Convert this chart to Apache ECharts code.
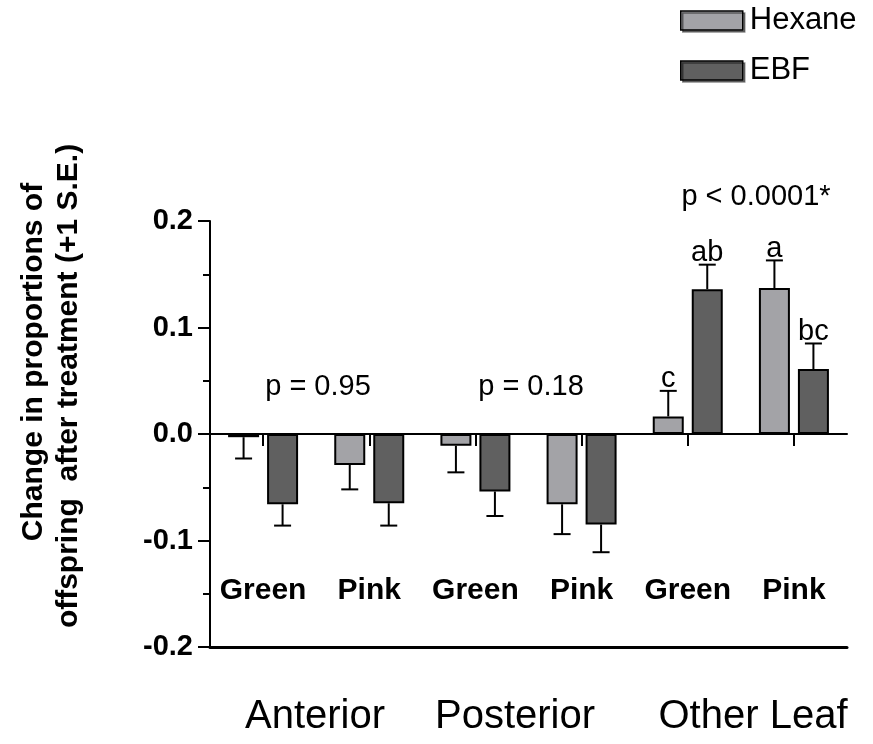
<!DOCTYPE html>
<html>
<head>
<meta charset="utf-8">
<script src="https://cdn.jsdelivr.net/npm/echarts@6/dist/echarts.min.js"></script>
<style>html,body{margin:0;padding:0;background:#fff;}#chart{width:873px;height:744px;}</style>
</head>
<body>
<div id="chart"></div>
<script>
// ---- data ----
const categories = ['Green', 'Pink', 'Green', 'Pink', 'Green', 'Pink'];
const groups = ['Anterior', 'Posterior', 'Other Leaf'];
const hexaneValues = [-0.003, -0.029, -0.011, -0.066, 0.0165, 0.137];
const hexaneSE = [0.020, 0.023, 0.025, 0.028, 0.024, 0.026];
const ebfValues = [-0.066, -0.065, -0.054, -0.085, 0.136, 0.061];
const ebfSE = [0.020, 0.021, 0.023, 0.026, 0.023, 0.024];
const hexaneLetters = ['', '', '', '', 'c', 'a'];
const ebfLetters = ['', '', '', '', 'ab', 'bc'];
const pValues = ['p = 0.95', 'p = 0.18', 'p < 0.0001*'];
const yTicks = [-0.2, -0.1, 0.0, 0.1, 0.2];
const yTitle = ['Change in proportions of', 'offspring  after treatment (+1 S.E.)'];

// ---- styles ----
const FONT = '"Liberation Sans", Arial, Helvetica, sans-serif';
const HEX_COLOR = '#a3a3a7';
const EBF_COLOR = '#606060';
const BAR_W = 31;
const BAR_GAP_PX = 8;
const OFFSET = (BAR_W + BAR_GAP_PX) / 2;
const CAP = 17;

const chart = echarts.init(document.getElementById('chart'));

function errRender(offset, letters) {
  return function (params, api) {
    const i = api.value(0), v = api.value(1), se = api.value(2);
    const dir = v >= 0 ? 1 : -1;
    const p0 = api.coord([i, v]);
    const p1 = api.coord([i, v + dir * se]);
    const x = p0[0] + offset;
    const children = [
      { type: 'line', shape: { x1: x, y1: p0[1], x2: x, y2: p1[1] }, style: { stroke: '#000', lineWidth: 2 } },
      { type: 'line', shape: { x1: x - CAP / 2, y1: p1[1], x2: x + CAP / 2, y2: p1[1] }, style: { stroke: '#000', lineWidth: 2 } }
    ];
    const t = letters[i];
    if (t) {
      children.push({ type: 'text', x: x, y: p1[1] + 3, style: { text: t, fill: '#000', fontSize: 29, fontFamily: FONT, align: 'center', verticalAlign: 'bottom' } });
    }
    return { type: 'group', children: children };
  };
}

const option = {
  animation: false,
  backgroundColor: '#fff',
  grid: { left: 210, right: 26, top: 221, bottom: 97, containLabel: false, outerBoundsMode: 'none' },
  legend: {
    orient: 'vertical', left: 680, top: 5, padding: 0,
    itemWidth: 62, itemHeight: 19, itemGap: 19,
    icon: 'rect',
    data: ['Hexane', 'EBF'],
    textStyle: { fontSize: 31, fontFamily: FONT, color: '#000', padding: [3, 0, 0, 2] },
    itemStyle: { borderColor: '#000', borderWidth: 1.5, shadowColor: 'rgba(0,0,0,0.45)', shadowOffsetX: 2, shadowOffsetY: 2, shadowBlur: 0 }
  },
  xAxis: [
    {
      type: 'category', data: categories,
      axisLine: { onZero: true, lineStyle: { color: '#000', width: 2 } },
      axisTick: { show: true, alignWithLabel: true, length: 12, lineStyle: { color: '#000', width: 2 } },
      axisLabel: { show: false },
      splitLine: { show: false }
    },
    {
      type: 'category', data: categories, position: 'bottom',
      axisLine: { onZero: false, lineStyle: { color: '#000', width: 3 } },
      axisTick: { show: false },
      axisLabel: { show: true, inside: true, interval: 0, hideOverlap: false, margin: 56, verticalAlign: 'middle',
        fontSize: 30, fontWeight: 'bold', fontFamily: FONT, color: '#000' },
      splitLine: { show: false }
    }
  ],
  yAxis: {
    type: 'value', min: yTicks[0], max: yTicks[yTicks.length - 1], interval: 0.1,
    axisLine: { show: true, onZero: false, lineStyle: { color: '#000', width: 2 } },
    axisTick: { show: true, length: 12, lineStyle: { color: '#000', width: 2 } },
    minorTick: { show: true, splitNumber: 2, length: 7, lineStyle: { color: '#000', width: 2 } },
    splitLine: { show: false },
    axisLabel: { margin: 17, fontSize: 29, fontWeight: 'bold', fontFamily: FONT, color: '#000',
      formatter: v => v.toFixed(1) }
  },
  series: [
    {
      name: 'Hexane', type: 'bar', xAxisIndex: 0, data: hexaneValues,
      barWidth: BAR_W, barGap: (BAR_GAP_PX / BAR_W * 100) + '%',
      itemStyle: { color: HEX_COLOR, borderColor: '#000', borderWidth: 2 }
    },
    {
      name: 'EBF', type: 'bar', xAxisIndex: 0, data: ebfValues,
      barWidth: BAR_W,
      itemStyle: { color: EBF_COLOR, borderColor: '#000', borderWidth: 2 }
    },
    {
      type: 'custom', xAxisIndex: 0, z: 5,
      data: hexaneValues.map((v, i) => [i, v, hexaneSE[i]]),
      encode: { x: 0, y: 1 },
      renderItem: errRender(-OFFSET, hexaneLetters)
    },
    {
      type: 'custom', xAxisIndex: 0, z: 5,
      data: ebfValues.map((v, i) => [i, v, ebfSE[i]]),
      encode: { x: 0, y: 1 },
      renderItem: errRender(OFFSET, ebfLetters)
    }
  ],
  graphic: [
    { type: 'text', x: 318, y: 387, style: { text: pValues[0], fontSize: 29, fontFamily: FONT, fill: '#000', align: 'center', verticalAlign: 'middle' } },
    { type: 'text', x: 531, y: 387, style: { text: pValues[1], fontSize: 29, fontFamily: FONT, fill: '#000', align: 'center', verticalAlign: 'middle' } },
    { type: 'text', x: 756, y: 197, style: { text: pValues[2], fontSize: 29, fontFamily: FONT, fill: '#000', align: 'center', verticalAlign: 'middle' } },
    { type: 'text', x: 315, y: 717, style: { text: groups[0], fontSize: 40, fontFamily: FONT, fill: '#000', align: 'center', verticalAlign: 'middle' } },
    { type: 'text', x: 515, y: 717, style: { text: groups[1], fontSize: 40, fontFamily: FONT, fill: '#000', align: 'center', verticalAlign: 'middle' } },
    { type: 'text', x: 753, y: 717, style: { text: groups[2], fontSize: 40, fontFamily: FONT, fill: '#000', align: 'center', verticalAlign: 'middle' } },
    { type: 'text', x: 34, y: 362, rotation: Math.PI / 2, style: { text: yTitle[0], fontSize: 30, fontWeight: 'bold', fontFamily: FONT, fill: '#000', align: 'center', verticalAlign: 'middle' } },
    { type: 'text', x: 69, y: 386, rotation: Math.PI / 2, style: { text: yTitle[1], fontSize: 30, fontWeight: 'bold', fontFamily: FONT, fill: '#000', align: 'center', verticalAlign: 'middle' } }
  ]
};
chart.setOption(option);
</script>
</body>
</html>
